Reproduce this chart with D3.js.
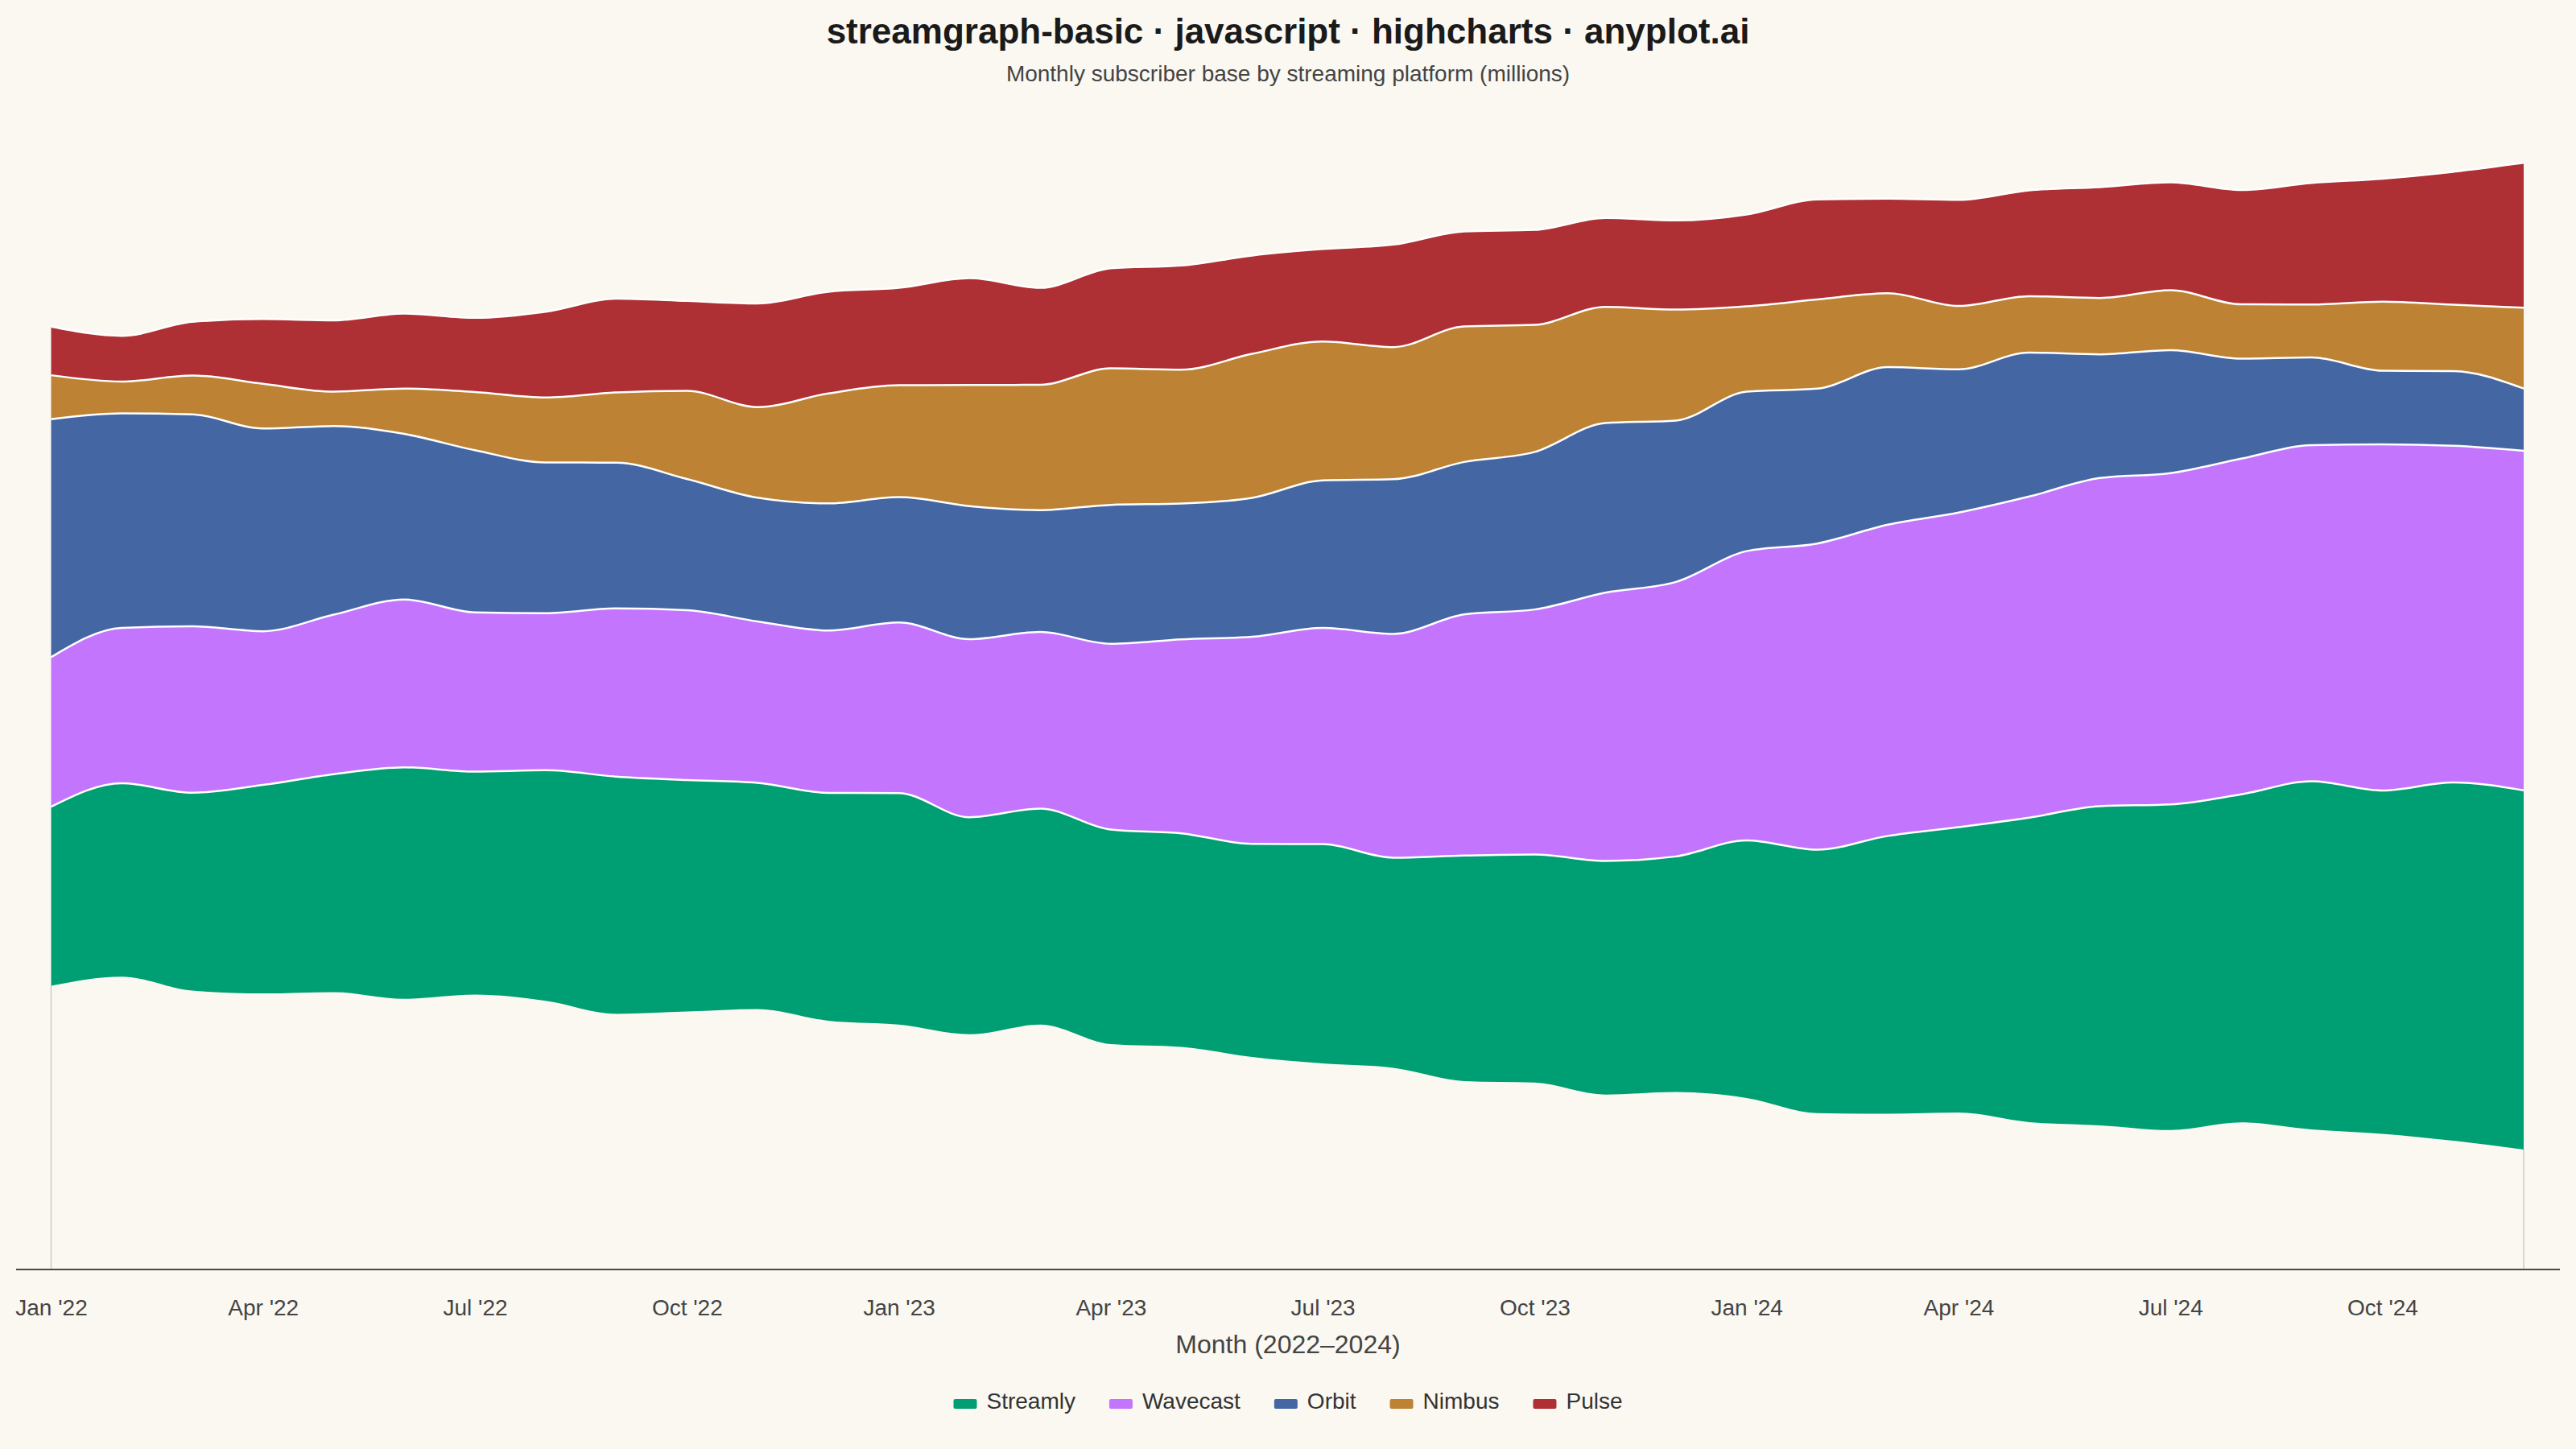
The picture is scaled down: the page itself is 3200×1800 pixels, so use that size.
<!DOCTYPE html>
<html>
<head>
<meta charset="utf-8">
<script src="https://cdn.jsdelivr.net/npm/d3@7"></script>
<style>
  html, body { margin: 0; padding: 0; background: #FAF8F1; }
  svg { display: block; }
  text { font-family: "Liberation Sans", Arial, Helvetica, sans-serif; }
</style>
</head>
<body>
<div id="chart"></div>
<script>
// months shown on the x axis (categories)
var months = ["Jan '22","Feb '22","Mar '22","Apr '22","May '22","Jun '22","Jul '22","Aug '22","Sep '22","Oct '22","Nov '22","Dec '22",
              "Jan '23","Feb '23","Mar '23","Apr '23","May '23","Jun '23","Jul '23","Aug '23","Sep '23","Oct '23","Nov '23","Dec '23",
              "Jan '24","Feb '24","Mar '24","Apr '24","May '24","Jun '24","Jul '24","Aug '24","Sep '24","Oct '24","Nov '24","Dec '24"];
var tickMonths = ["Jan '22","Apr '22","Jul '22","Oct '22","Jan '23","Apr '23","Jul '23","Oct '23","Jan '24","Apr '24","Jul '24","Oct '24"];

var seriesNames = ["Streamly", "Wavecast", "Orbit", "Nimbus", "Pulse"];

// subscribers, millions
var streamly = [74.1, 80.0, 81.9, 86.3, 90.2, 95.8, 92.3, 95.4, 98.2, 95.8, 93.6, 94.3,
                95.8, 89.8, 89.4, 88.8, 88.4, 88.2, 90.8, 87.0, 93.3, 94.4, 96.7, 97.5,
                106.6, 109.0, 115.0, 118.1, 126.0, 132.1, 134.8, 135.8, 144.1, 142.1, 148.3, 148.7];
var wavecast = [61.9, 64.3, 68.9, 63.6, 66.0, 69.5, 65.9, 65.0, 69.6, 70.3, 66.8, 67.2,
                70.6, 73.7, 73.1, 76.9, 80.3, 85.7, 89.5, 92.6, 99.8, 101.4, 111.0, 113.6,
                119.7, 126.7, 128.8, 130.2, 132.9, 135.8, 137.1, 138.9, 139.1, 143.2, 139.3, 140.5];
var orbit    = [98.5, 88.8, 87.7, 83.9, 78.1, 68.5, 67.1, 62.4, 60.3, 54.3, 51.2, 52.6,
                51.9, 55.1, 50.4, 57.5, 56.2, 57.5, 61.0, 64.0, 63.1, 65.2, 70.2, 66.8,
                66.0, 64.1, 65.2, 59.3, 59.6, 51.2, 50.9, 41.4, 36.3, 30.5, 30.9, 25.8];
var nimbus   = [18.2, 13.2, 16.1, 18.5, 14.2, 18.8, 24.1, 26.9, 29.1, 36.5, 37.5, 45.5,
                46.3, 50.1, 51.9, 56.5, 55.4, 59.6, 57.5, 54.7, 56.1, 52.6, 48.1, 45.9,
                35.3, 36.9, 30.6, 26.2, 23.3, 23.3, 24.8, 22.5, 21.9, 28.6, 27.5, 33.4];
var pulse    = [20.1, 18.9, 22.2, 26.8, 29.5, 31.0, 30.7, 35.5, 38.8, 37.2, 42.9, 42.1,
                40.3, 44.2, 40.1, 41.4, 43.1, 40.7, 38.3, 42.4, 39.3, 39.3, 36.8, 36.9,
                38.0, 41.4, 39.1, 43.9, 43.8, 45.9, 44.6, 47.3, 50.3, 50.9, 55.0, 60.0];

var colors = ["#009E73", "#C475FD", "#4467A3", "#BD8233", "#AE2F34"];

var width = 3200;
var height = 1800;
var axis_y = 1577;
var plot_left = 20;
var plot_right = 3180;

var svg = d3.select("#chart").append("svg")
    .attr("width", width)
    .attr("height", height);

svg.append("rect")
    .attr("width", width)
    .attr("height", height)
    .attr("fill", "#FAF8F1");

// one row per month
var values = [streamly, wavecast, orbit, nimbus, pulse];
var table = months.map(function (m, i) {
    var row = { month: m };
    seriesNames.forEach(function (s, k) { row[s] = values[k][i]; });
    return row;
});

var layers = d3.stack()
    .keys(seriesNames)
    .order(d3.stackOrderNone)
    .offset(d3.stackOffsetSilhouette)(table);

var x = d3.scalePoint().domain(months).range([63.5, 3135]);
var y = d3.scaleLinear().domain([-253.8, 253.8]).range([axis_y, 53.4]);

var area = d3.area()
    .x(function (d) { return x(d.data.month); })
    .y0(function (d) { return y(d[0]); })
    .y1(function (d) { return y(d[1]); })
    .curve(d3.curveMonotoneX);

var topLine = d3.line()
    .x(function (d) { return x(d.data.month); })
    .y(function (d) { return y(d[1]); })
    .curve(d3.curveMonotoneX);

// thin edge lines under the stream at first/last month
var bottom = layers[0];
[0, months.length - 1].forEach(function (i) {
    svg.append("line")
        .attr("x1", x(months[i])).attr("x2", x(months[i]))
        .attr("y1", y(bottom[i][0])).attr("y2", axis_y)
        .attr("stroke", "#cccccc")
        .attr("stroke-width", 1.5);
});

svg.append("g").selectAll("path")
    .data(layers)
    .enter().append("path")
    .attr("d", area)
    .attr("fill", function (d, i) { return colors[i]; });

svg.append("g").selectAll("path")
    .data(layers)
    .enter().append("path")
    .attr("d", topLine)
    .attr("fill", "none")
    .attr("stroke", "#ffffff")
    .attr("stroke-width", 2.5);

// x axis
svg.append("line")
    .attr("x1", plot_left).attr("x2", plot_right)
    .attr("y1", axis_y).attr("y2", axis_y)
    .attr("stroke", "#4a4842")
    .attr("stroke-width", 2);

var xAxis = svg.append("g")
    .attr("transform", "translate(0," + axis_y + ")")
    .call(d3.axisBottom(x).tickValues(tickMonths).tickSize(0).tickPadding(37));
xAxis.select(".domain").remove();
xAxis.selectAll("text")
    .attr("font-size", 28)
    .attr("fill", "#444444")
    .style("font-family", "'Liberation Sans', Arial, sans-serif");

svg.append("text")
    .attr("x", 1600).attr("y", 1681)
    .attr("text-anchor", "middle")
    .attr("font-size", 32)
    .attr("fill", "#444444")
    .text("Month (2022\u20132024)");

// titles
svg.append("text")
    .attr("x", 1600).attr("y", 54)
    .attr("text-anchor", "middle")
    .attr("font-size", 44)
    .attr("font-weight", "bold")
    .attr("fill", "#1a1a1a")
    .text("streamgraph-basic \u00b7 javascript \u00b7 highcharts \u00b7 anyplot.ai");

svg.append("text")
    .attr("x", 1600).attr("y", 101)
    .attr("text-anchor", "middle")
    .attr("font-size", 28)
    .attr("fill", "#444444")
    .text("Monthly subscriber base by streaming platform (millions)");

// legend
var legend = svg.append("g");
var lx = 0;
seriesNames.forEach(function (s, i) {
    var item = legend.append("g").attr("transform", "translate(" + lx + ",0)");
    item.append("rect")
        .attr("x", 0).attr("y", 1738)
        .attr("width", 29).attr("height", 12)
        .attr("rx", 2)
        .attr("fill", colors[i]);
    var t = item.append("text")
        .attr("x", 41).attr("y", 1750)
        .attr("font-size", 28)
        .attr("fill", "#333333")
        .text(s);
    lx += 41 + t.node().getComputedTextLength() + 42;
});
var legendWidth = lx - 42;
legend.attr("transform", "translate(" + (1600 - legendWidth / 2) + ",0)");
</script>
</body>
</html>
